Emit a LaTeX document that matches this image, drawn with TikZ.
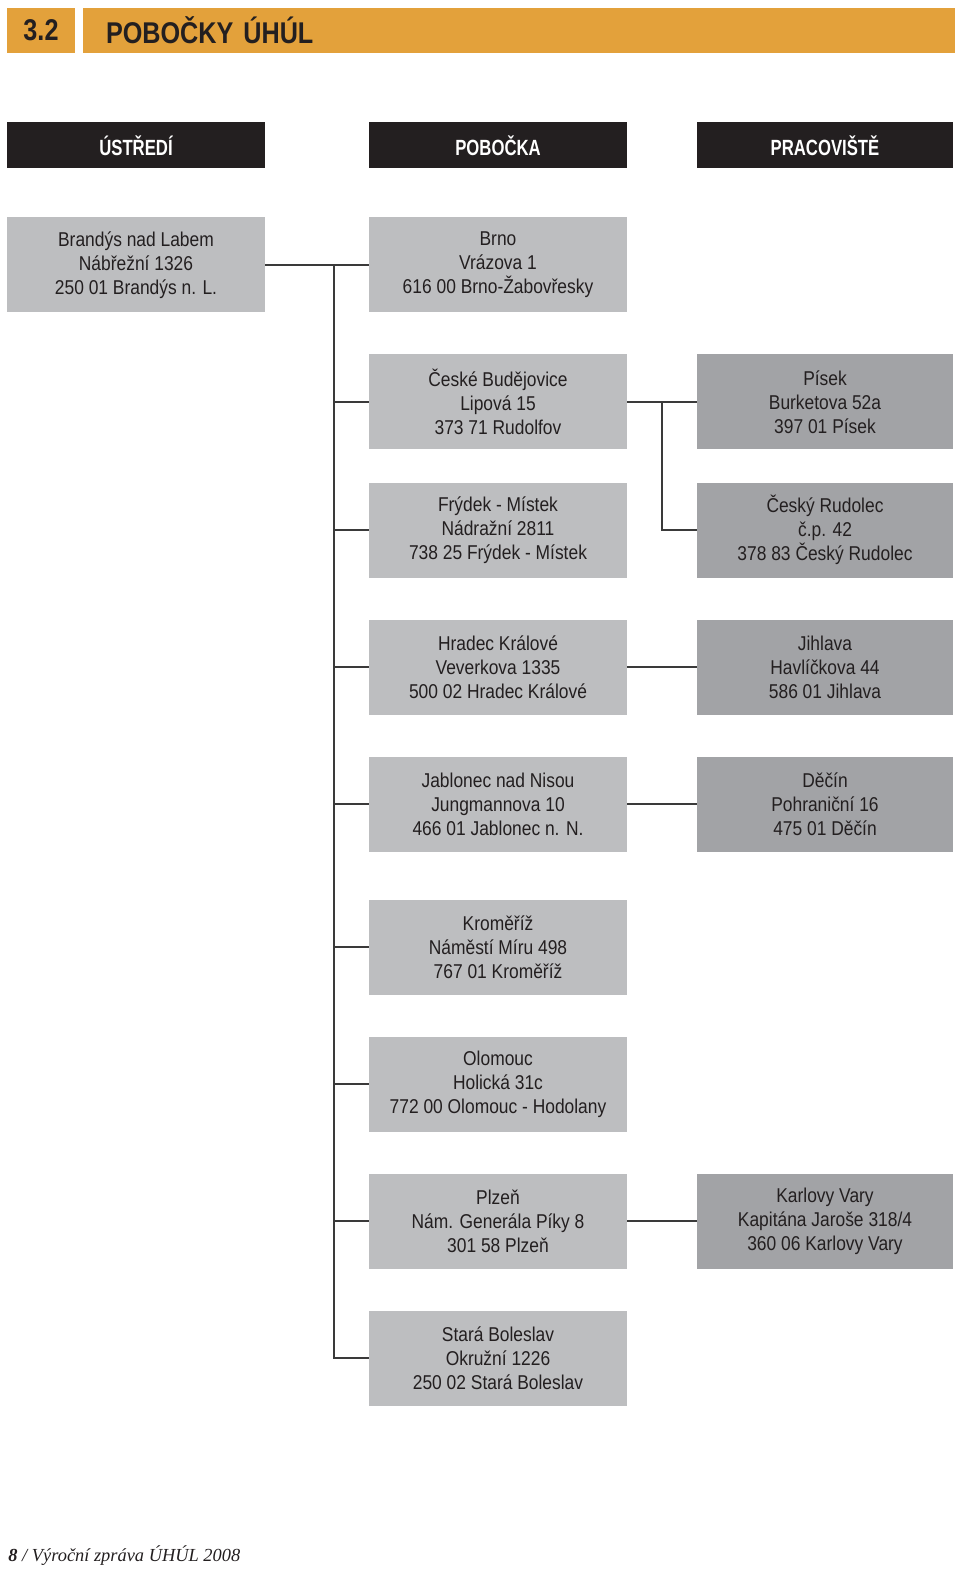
\documentclass[tikz,border=0pt]{standalone}
\usepackage{fontspec}
\setmainfont{Liberation Sans}[FakeStretch=0.87]
\newfontfamily\headfont{Liberation Sans}[FakeStretch=0.76]
\newfontfamily\titlefont{Liberation Sans Bold}[FakeStretch=0.84]
\newfontfamily\footfont{Liberation Serif}
\usepackage{tikz}
\usepackage{color}

\definecolor{orangebar}{HTML}{E3A13B}
\definecolor{hdrblack}{HTML}{231F20}
\definecolor{lightgray}{HTML}{BDBEC0}
\definecolor{darkgray}{HTML}{A2A3A6}
\definecolor{linkgray}{HTML}{3A3A3A}

\tikzset{
  titlebox/.style={fill=orangebar, minimum height=22.5pt, inner sep=0pt,
    font=\titlefont\fontsize{15}{18}\selectfont, text=hdrblack},
  hdrbox/.style={fill=hdrblack, minimum width=129pt, minimum height=23pt, inner sep=0pt,
    font=\headfont\fontsize{11}{13}\selectfont\bfseries, text=white},
  lightbox/.style={fill=lightgray, minimum width=129pt, minimum height=47.5pt, inner sep=0pt,
    align=center, font=\fontsize{10}{12}\selectfont, text=hdrblack},
  darkbox/.style={lightbox, fill=darkgray, minimum width=128pt},
  link/.style={linkgray, line width=1pt}
}

\begin{document}
\begin{tikzpicture}[x=0.5pt,y=-0.5pt]
\useasboundingbox (0,0) rectangle (960,1572);

\node[titlebox, minimum width=34pt] (num) at (41,30.5) {3.2};
\node[titlebox, minimum width=436pt, text width=413pt, align=left] (title) at (519,30.5) {POBOČKY ÚHÚL};

\node[hdrbox] (hu) at (136,145.5) {ÚSTŘEDÍ};
\node[hdrbox] (hp) at (498,145.5) {POBOČKA};
\node[hdrbox, minimum width=128pt] (hw) at (825,145.5) {PRACOVIŠTĚ};

\node[lightbox] (u) at (136,265) {Brandýs nad Labem\\Nábřežní 1326\\250 01 Brandýs n. L.};

\node[lightbox] (p1) at (498,265) {Brno\\Vrázova 1\\616 00 Brno-Žabovřesky};
\node[lightbox] (p2) at (498,402) {České Budějovice\\Lipová 15\\373 71 Rudolfov};
\node[lightbox] (p3) at (498,530) {Frýdek - Místek\\Nádražní 2811\\738 25 Frýdek - Místek};
\node[lightbox] (p4) at (498,667) {Hradec Králové\\Veverkova 1335\\500 02 Hradec Králové};
\node[lightbox] (p5) at (498,804) {Jablonec nad Nisou\\Jungmannova 10\\466 01 Jablonec n. N.};
\node[lightbox] (p6) at (498,947) {Kroměříž\\Náměstí Míru 498\\767 01 Kroměříž};
\node[lightbox] (p7) at (498,1084) {Olomouc\\Holická 31c\\772 00 Olomouc - Hodolany};
\node[lightbox] (p8) at (498,1221) {Plzeň\\Nám. Generála Píky 8\\301 58 Plzeň};
\node[lightbox] (p9) at (498,1358) {Stará Boleslav\\Okružní 1226\\250 02 Stará Boleslav};

\node[darkbox] (w2) at (825,402) {Písek\\Burketova 52a\\397 01 Písek};
\node[darkbox] (w3) at (825,530) {Český Rudolec\\č.p. 42\\378 83 Český Rudolec};
\node[darkbox] (w4) at (825,667) {Jihlava\\Havlíčkova 44\\586 01 Jihlava};
\node[darkbox] (w5) at (825,804) {Děčín\\Pohraniční 16\\475 01 Děčín};
\node[darkbox] (w8) at (825,1221) {Karlovy Vary\\Kapitána Jaroše 318/4\\360 06 Karlovy Vary};

\draw[link] (u.east) -- (p1.west);
\coordinate (trunk) at (334,265);
\foreach \n in {2,...,9}
  \draw[link] (trunk) |- (p\n.west);

\draw[link] (p2.east) -- (w2.west);
\coordinate (fork) at (662,402);
\draw[link] (fork) |- (w3.west);
\draw[link] (p4.east) -- (w4.west);
\draw[link] (p5.east) -- (w5.west);
\draw[link] (p8.east) -- (w8.west);

\node[anchor=base west, inner sep=0pt, font=\footfont\fontsize{9.2}{11}\selectfont\itshape, text=hdrblack] (foot) at (8,1561) {\textbf{8} / Výroční zpráva ÚHÚL 2008};
\end{tikzpicture}
\end{document}
